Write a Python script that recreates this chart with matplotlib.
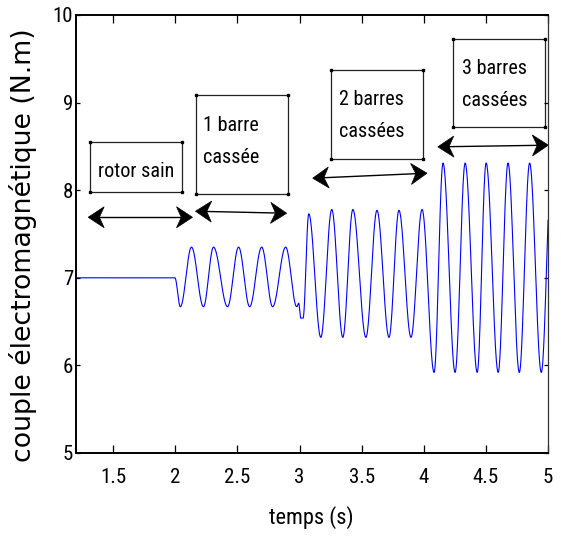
import numpy as np
import matplotlib
matplotlib.use("Agg")
import matplotlib.pyplot as plt
from matplotlib.patches import Rectangle, Polygon
from matplotlib.lines import Line2D
from matplotlib.transforms import IdentityTransform

# Turning points of the electromagnetic torque trace: time (s) and torque (N.m)
t_ext = [1.2, 1.996, 2.04, 2.13, 2.226, 2.307, 2.42, 2.509, 2.598, 2.695,
         2.783, 2.888, 2.977, 2.993, 3.009, 3.028, 3.074, 3.171, 3.259, 3.348,
         3.429, 3.534, 3.623, 3.72, 3.80, 3.897, 3.986, 4.083, 4.155, 4.252,
         4.333, 4.43, 4.502, 4.599, 4.678, 4.769, 4.852, 4.946, 5.03]
c_ext = [7.0, 7.0, 6.67, 7.35, 6.67, 7.35, 6.67, 7.35, 6.67, 7.35,
         6.67, 7.35, 6.67, 6.71, 6.54, 6.54, 7.73, 6.32, 7.78, 6.32,
         7.78, 6.32, 7.77, 6.32, 7.77, 6.32, 7.78, 5.92, 8.31, 5.92,
         8.31, 5.92, 8.31, 5.92, 8.31, 5.92, 8.31, 5.92, 8.31]

x_ticks = [1.5, 2, 2.5, 3, 3.5, 4, 4.5, 5]
x_ticklabels = ["1.5", "2", "2.5", "3", "3.5", "4", "4.5", "5"]
y_ticks = [5, 6, 7, 8, 9, 10]
y_ticklabels = ["5", "6", "7", "8", "9", "10"]

phase_labels = ["rotor sain", "1 barre\ncassée", "2 barres\ncassées", "3 barres\ncassées"]

# annotation layout (data coordinates); text anchored on the last line's baseline
box_extents = [(1.314, 7.977, 2.057, 8.549),
               (2.170, 7.954, 2.904, 9.086),
               (3.251, 8.354, 3.994, 9.371),
               (4.236, 8.720, 4.979, 9.726)]
label_anchor = [(1.379, 8.149), (2.226, 8.309), (3.316, 8.606), (4.309, 8.960)]
arrow_ends = [((1.298, 7.691), (2.138, 7.691)),
              ((2.162, 7.760), (2.896, 7.737)),
              ((3.106, 8.137), (4.026, 8.194)),
              ((4.113, 8.495), (5.003, 8.514))]

NARROW = ["Roboto Condensed", "PT Sans Narrow", "Archivo Narrow",
          "Liberation Sans", "DejaVu Sans"]


def smooth_trace(tp, cp, n=40):
    ts, cs = [], []
    for i in range(len(tp) - 1):
        u = np.linspace(0.0, 1.0, n, endpoint=False)
        ts.append(tp[i] + (tp[i + 1] - tp[i]) * u)
        cs.append(cp[i] + (cp[i + 1] - cp[i]) * (1 - np.cos(np.pi * u)) / 2)
    ts.append([tp[-1]])
    cs.append([cp[-1]])
    return np.concatenate(ts), np.concatenate(cs)


def double_arrow(ax, p0, p1, L=16.0, W=10.5, notch=0.7):
    P0 = ax.transData.transform(p0)
    P1 = ax.transData.transform(p1)
    d = (P1 - P0) / np.linalg.norm(P1 - P0)
    nrm = np.array([-d[1], d[0]])
    a = P0 + d * L * notch
    b = P1 - d * L * notch
    ax.add_line(Line2D([a[0], b[0]], [a[1], b[1]], color="black", lw=1.0,
                       transform=IdentityTransform(), clip_on=False))
    for tip, u in ((P0, d), (P1, -d)):
        verts = [tip, tip + u * L + nrm * W, tip + u * L * notch, tip + u * L - nrm * W]
        ax.add_patch(Polygon(verts, closed=True, facecolor="black", edgecolor="black",
                             lw=0.5, transform=IdentityTransform(), clip_on=False))


fig = plt.figure(figsize=(5.61, 5.37), dpi=100)
ax = fig.add_axes([76 / 561, (537 - 453) / 537, (548 - 76) / 561, (453 - 15) / 537])

t, c = smooth_trace(t_ext, c_ext)
ax.plot(t, c, color="#0000ff", lw=0.8)

ax.set_xlim(1.2, 5)
ax.set_ylim(5, 10)
ax.set_xticks(x_ticks)
ax.set_xticklabels(x_ticklabels, family=NARROW, fontsize=15)
ax.set_yticks(y_ticks)
ax.set_yticklabels(y_ticklabels, family=NARROW, fontsize=15)
ax.tick_params(axis="x", direction="in", length=6, width=0.9, top=True, pad=11)
ax.tick_params(axis="y", direction="in", length=3, width=0.9, right=True, pad=2)

for side in ("left", "bottom", "top"):
    ax.spines[side].set_linewidth(1.4)
ax.spines["right"].set_linewidth(0.9)
ax.spines["right"].set_color("#333333")

fig.text(311 / 561, 1 - 518 / 537, "temps (s)", family=NARROW, fontsize=16,
         ha="center", va="center")
fig.text(23 / 561, 1 - 245 / 537, "couple électromagnétique (N.m)", family="DejaVu Sans",
         fontsize=19.3, rotation=90, ha="center", va="center")

for (x0, y0, x1, y1), (tx, ty), label in zip(box_extents, label_anchor, phase_labels):
    ax.add_patch(Rectangle((x0, y0), x1 - x0, y1 - y0, fill=False, edgecolor="#222222",
                           lw=0.9, clip_on=False))
    ax.plot([x0, x1, x0, x1], [y0, y0, y1, y1], ls="none", marker="s", ms=1.6,
            color="black", clip_on=False)
    ax.text(tx, ty, label, family=NARROW, fontsize=14.5, ha="left", va="baseline",
            linespacing=1.9)

for p0, p1 in arrow_ends:
    double_arrow(ax, p0, p1)

fig.savefig("out.png", dpi=100)
